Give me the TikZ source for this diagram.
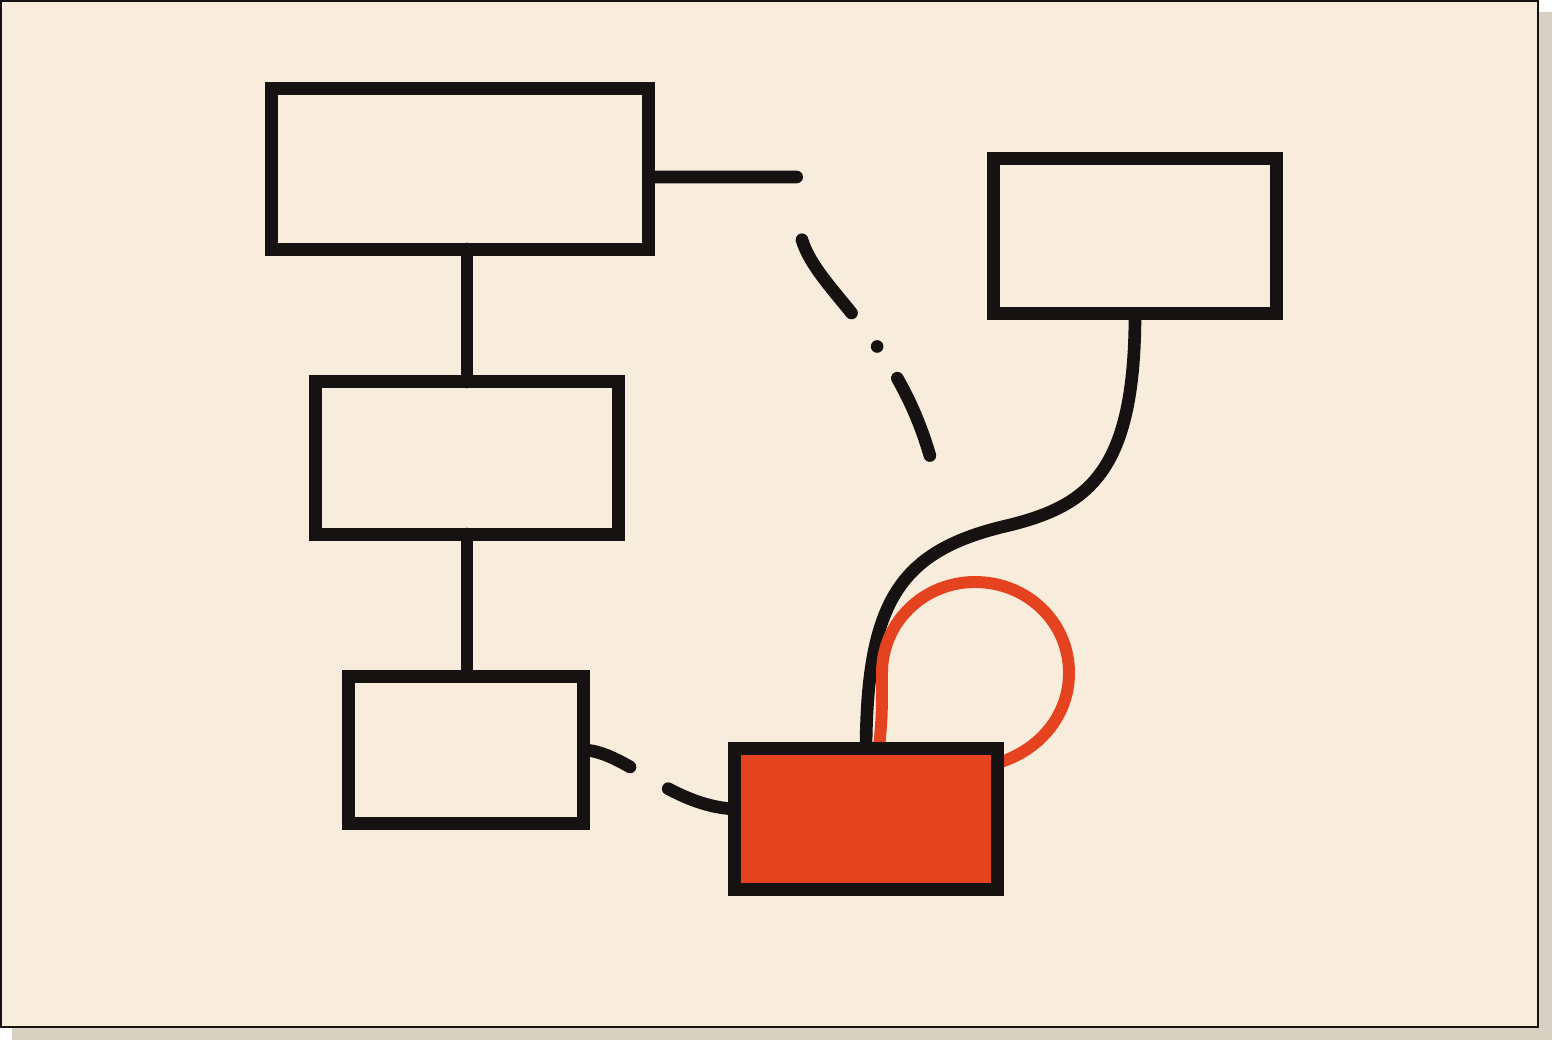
\documentclass[tikz,border=0pt]{standalone}
\usepackage{tikz}
\definecolor{paper}{HTML}{F8ECDC}
\definecolor{ink}{HTML}{161211}
\definecolor{tomato}{HTML}{E5431F}
\definecolor{shadowgrey}{HTML}{D6D1C1}
\pgfdeclarelayer{sheet}
\pgfdeclarelayer{wires}
\pgfsetlayers{sheet,wires,main}

\begin{document}
\begin{tikzpicture}[x=0.01cm,y=-0.01cm,
  box/.style={draw=ink,line width=3.7pt,inner sep=0pt,outer sep=0pt},
  wire/.style={draw=ink,line width=3.6pt,line cap=round}]
\useasboundingbox (0,0) rectangle (1552,1040);
\begin{pgfonlayer}{sheet}
\fill[white] (0,0) rectangle (1552,1040);
\fill[shadowgrey] (12,12) rectangle (1552,1040);
\draw[ink,fill=paper,line width=0.8pt] (1,1) rectangle (1538,1027);
\end{pgfonlayer}
% boxes
\node[box,minimum width=3.77cm,minimum height=1.60cm] (A) at (460,169) {};
\node[box,minimum width=3.03cm,minimum height=1.52cm] (B) at (467,458) {};
\node[box,minimum width=2.35cm,minimum height=1.47cm] (C) at (466,750) {};
\node[box,minimum width=2.83cm,minimum height=1.55cm] (D) at (1135,236) {};
\node[box,fill=tomato,minimum width=2.63cm,minimum height=1.40cm] (E) at (866,819) {};
\coordinate (tail) at (930,456);
\begin{pgfonlayer}{wires}
\draw[wire] (B.north) -- (B.north |- A.south);
\draw[wire] (B.south) -- (B.south |- C.north);
\draw[wire,dash pattern=on 42.1pt off 18.8pt on 25.3pt off 12pt on 0pt off 10.7pt on 23.9pt off 17pt]
  ([yshift=-0.08cm]A.east) -- (800,177) -- (802,240)
  .. controls (818,292) and (895,335) .. (tail);
\draw[wire,dash pattern=on 14.2pt off 12.5pt on 40pt]
  (C.east) .. controls (625,751) and (670,806) .. ([yshift=0.1cm]E.west);
\draw[wire] (D.south) .. controls (1135,470) and (1090,505) .. (1010,525)
  .. controls (900,550) and (867,600) .. (E.north);
\draw[tomato,line width=3.4pt] ([xshift=0.13cm]E.north) .. controls (882,715) .. (882,673)
  .. controls (882,622) and (924,582) .. (975,582)
  .. controls (1027,582) and (1069,622) .. (1069,673)
  .. controls (1069,714) and (1041,750) .. ([yshift=-0.14cm]E.north east);
\end{pgfonlayer}
\end{tikzpicture}
\end{document}
